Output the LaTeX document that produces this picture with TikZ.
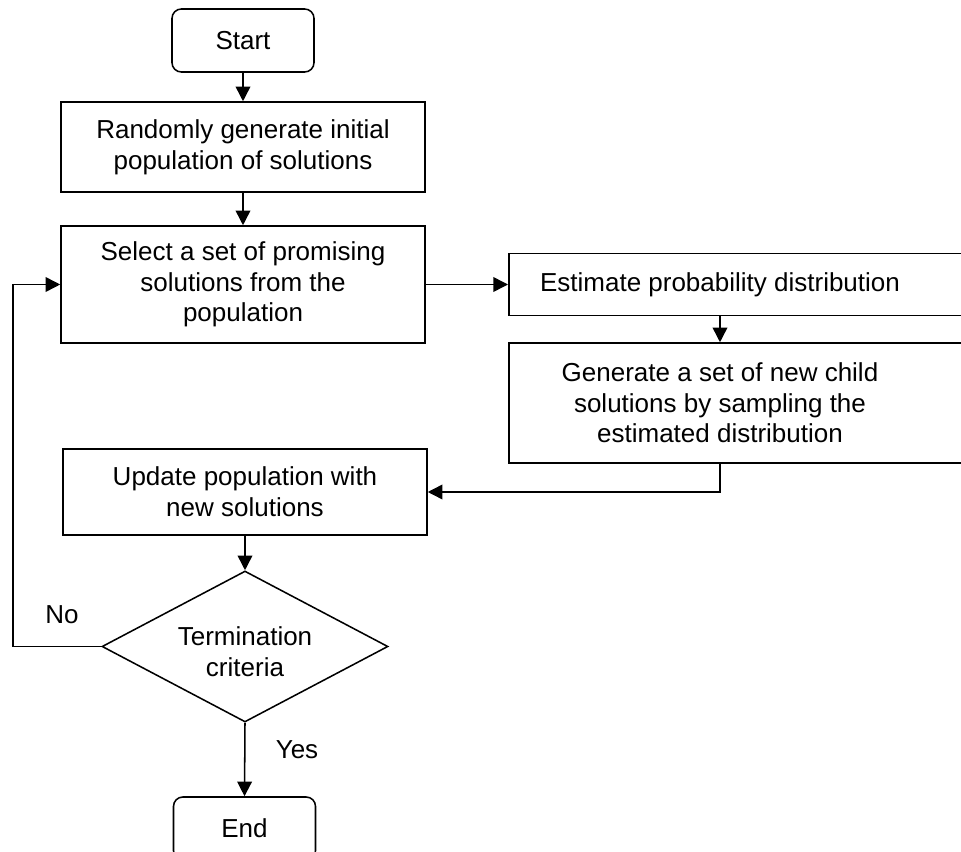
\documentclass[tikz,border=0pt]{standalone}
\usepackage{fontspec}
\setmainfont{Liberation Sans}
\usetikzlibrary{shapes.geometric,arrows.meta}
\begin{document}
\begin{tikzpicture}[x=0.75pt,y=-0.75pt,
  every node/.style={font=\fontsize{19.5pt}{23pt}\selectfont, align=center, inner sep=0pt},
  box/.style={draw, line width=1.15pt, minimum width=273pt},
  term/.style={draw, line width=1.15pt, rounded corners=7pt, minimum width=106.5pt, minimum height=47.25pt},
  decision/.style={draw, line width=1.15pt, diamond, aspect=1.894, minimum width=214.5pt, minimum height=113.25pt},
  conn/.style={line width=1.15pt, -{Triangle[length=11pt,width=11pt]}}]
\useasboundingbox (0,0) rectangle (961,852);
\clip (0,0) rectangle (961,852);
\node[term] (start) at (243,40.5) {Start};
\node[box, minimum height=67.5pt] (init) at (243,147) {Randomly generate initial\\population of solutions};
\node[box, minimum height=87.75pt] (sel) at (243,284.5) {Select a set of promising\\solutions from the\\population};
\node[draw, line width=1.15pt, anchor=west, minimum width=350pt, minimum height=46.5pt] (est) at (508,284.5) {};
\node (estT) at (720,284.5) {Estimate probability distribution};
\node[draw, line width=1.15pt, anchor=west, minimum width=350pt, minimum height=90pt] (gen) at (508,403) {};
\node (genT) at (720,403) {Generate a set of new child\\solutions by sampling the\\estimated distribution};
\node[box, minimum height=64.5pt] (upd) at (245,492) {Update population with\\new solutions};
\node[decision] (dec) at (245,646.5) {};
\node (decT) at (245,652) {Termination\\criteria};
\node[term] (end) at (244.5,828.5) {End};
\node (no) at (62,615) {No};
\node (yes) at (297,750) {Yes};
\coordinate (loopx) at (13,0);
\draw[conn] (start) -- (init);
\draw[conn] (init) -- (sel);
\draw[conn] (sel.east) -- (est.west);
\draw[conn] (estT |- est.south) -- (estT |- gen.north);
\draw[conn] (genT |- gen.south) |- (upd.east);
\draw[conn] (upd) -- (dec.north);
\draw[conn] (dec.west) -- (loopx |- dec.west) -- (loopx |- sel.west) -- (sel.west);
\draw[conn] (dec.south) -- (end.north);
\end{tikzpicture}
\end{document}
